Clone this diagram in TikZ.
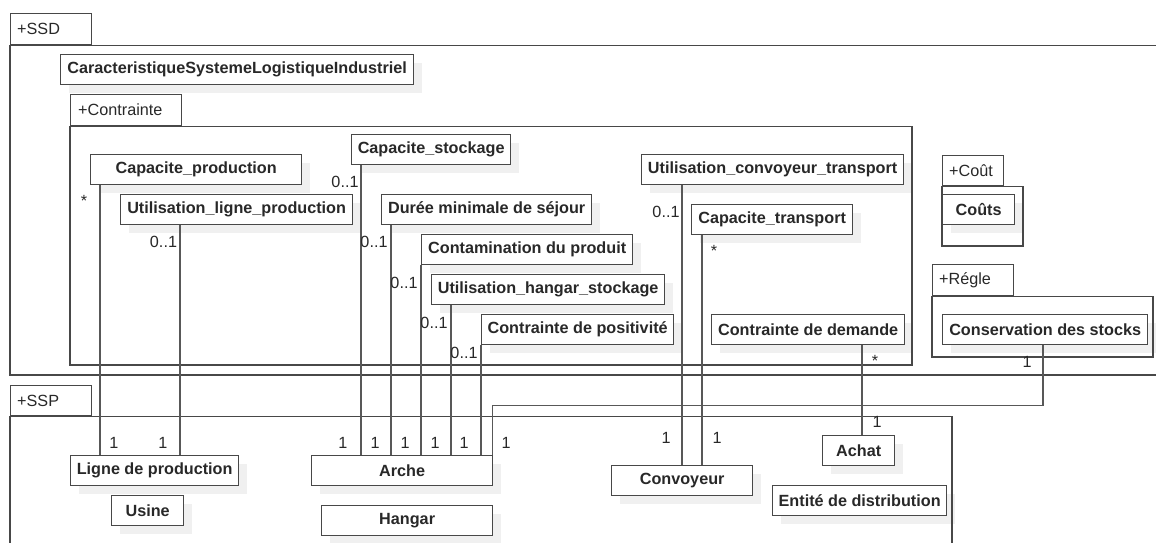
\documentclass[tikz,border=0pt]{standalone}
\usepackage{fontspec}
\setmainfont{Liberation Sans}
\usepackage{xcolor}
\usepackage{tikz}
\usetikzlibrary{shadows}
\definecolor{linegray}{RGB}{88,88,88}
\definecolor{boxgray}{RGB}{72,72,72}
\definecolor{textgray}{RGB}{40,40,40}
\definecolor{shadowgray}{RGB}{240,240,240}
\newcommand{\umlfont}{\fontsize{16.2}{19}\selectfont}

\tikzset{
  classbox/.style={draw=boxgray, line width=1.3pt, fill=white, font=\umlfont\bfseries,
    text=textgray, inner sep=0pt, minimum height=30pt, anchor=north west,
    drop shadow={shadow xshift=8pt, shadow yshift=-8pt, fill=shadowgray, opacity=1}},
  pkgtab/.style={draw=boxgray, line width=1.3pt, inner sep=0pt, minimum height=31pt, anchor=north west},
  pkglabel/.style={font=\umlfont, text=textgray, inner sep=0pt, anchor=west},
  frame/.style={draw=boxgray, line width=1.3pt},
  link/.style={draw=linegray, line width=1.3pt},
  mult/.style={font=\umlfont, text=textgray, inner sep=0pt, anchor=base}
}

\begin{document}
\begin{tikzpicture}[x=1pt, y=-1pt]
  \useasboundingbox (0,0) rectangle (1156,543);
  \clip (0,0) rectangle (1156,543);

  % classes of +SSD
  \node[classbox, minimum width=353] (csli) at (60,54) {CaracteristiqueSystemeLogistiqueIndustriel};
  \node[classbox, minimum width=159] (capstock) at (351,134) {Capacite\_stockage};
  \node[classbox, minimum width=211] (capprod) at (90,154) {Capacite\_production};
  \node[classbox, minimum width=262] (utilconv) at (641,154) {Utilisation\_convoyeur\_transport};
  \node[classbox, minimum width=232] (utilligne) at (120,194) {Utilisation\_ligne\_production};
  \node[classbox, minimum width=210] (duree) at (381,194) {Durée minimale de séjour};
  \node[classbox, minimum width=72] (couts) at (942,194) {Coûts};
  \node[classbox, minimum width=161] (captrans) at (691,204) {Capacite\_transport};
  \node[classbox, minimum width=211] (contam) at (421,234) {Contamination du produit};
  \node[classbox, minimum width=233] (utilhangar) at (431,274) {Utilisation\_hangar\_stockage};
  \node[classbox, minimum width=192] (positiv) at (481,314) {Contrainte de positivité};
  \node[classbox, minimum width=193] (demande) at (711,314) {Contrainte de demande};
  \node[classbox, minimum width=205] (conserv) at (942,314) {Conservation des stocks};

  % classes of +SSP
  \node[classbox, minimum width=72] (achat) at (822,435) {Achat};
  \node[classbox, minimum width=168] (ligne) at (70,455) {Ligne de production};
  \node[classbox, minimum width=181] (arche) at (311,455) {Arche};
  \node[classbox, minimum width=141] (convoy) at (611,465) {Convoyeur};
  \node[classbox, minimum width=174] (entite) at (772,485) {Entité de distribution};
  \node[classbox, minimum width=72] (usine) at (111,495) {Usine};
  \node[classbox, minimum width=171] (hangar) at (321,505) {Hangar};

  % packages
  \node[pkgtab, minimum width=81] (ssd) at (10,13) {};
  \node[pkglabel] (ssd-l) at ([xshift=7]ssd.west) {+SSD};
  \draw[frame] (ssd.south west) rectangle (1180,375);
  \node[pkgtab, minimum width=111] (contr) at (70,94) {};
  \node[pkglabel] (contr-l) at ([xshift=8]contr.west) {+Contrainte};
  \draw[frame] (contr.south west) rectangle (912,365);
  \node[pkgtab, minimum width=61, minimum height=30pt] (cout) at (942,155) {};
  \node[pkglabel] (cout-l) at ([xshift=7]cout.west) {+Coût};
  \draw[frame] (cout.south west) rectangle (1023,246);
  \node[pkgtab, minimum width=81] (regle) at (932,264) {};
  \node[pkglabel] (regle-l) at ([xshift=7]regle.west) {+Régle};
  \draw[frame] (regle.south west) rectangle (1153,357);
  \node[pkgtab, minimum width=81, minimum height=30pt] (ssp) at (10,385) {};
  \node[pkglabel] (ssp-l) at ([xshift=7]ssp.west) {+SSP};
  \draw[frame] (ssp.south west) rectangle (952,580);

  % associations
  \coordinate (capprod-b) at ([xshift=10]capprod.south west);
  \coordinate (utilligne-b) at ([xshift=60]utilligne.south west);
  \coordinate (capstock-b) at ([xshift=10]capstock.south west);
  \coordinate (duree-b) at ([xshift=10]duree.south west);
  \coordinate (contam-b) at (contam.south west);
  \coordinate (utilhangar-b) at ([xshift=20]utilhangar.south west);
  \coordinate (positiv-b) at (positiv.south west);
  \coordinate (utilconv-b) at ([xshift=41]utilconv.south west);
  \coordinate (captrans-b) at ([xshift=11]captrans.south west);
  \coordinate (demande-b) at ([xshift=151]demande.south west);
  \coordinate (conserv-b) at ([xshift=101]conserv.south west);
  \coordinate (arche-t) at ([xshift=-1]arche.north east);

  \draw[link] (capprod-b) -- (capprod-b |- ligne.north);
  \draw[link] (utilligne-b) -- (utilligne-b |- ligne.north);
  \foreach \c in {capstock,duree,contam,utilhangar,positiv}
    \draw[link] (\c-b) -- (\c-b |- arche.north);
  \draw[link] (utilconv-b) -- (utilconv-b |- convoy.north);
  \draw[link] (captrans-b) -- (captrans-b |- convoy.north);
  \draw[link] (demande-b) -- (demande-b |- achat.north);
  \draw[link] (conserv-b) -- ++(0,60) -| (arche-t);

  % multiplicities
  \node[mult] (m-capprod) at (84,206) {*};
  \node[mult] (m-utilligne) at (163.5,247) {0..1};
  \node[mult] (m-capstock) at (345,187) {0..1};
  \node[mult] (m-duree) at (374,247) {0..1};
  \node[mult] (m-contam) at (404,288) {0..1};
  \node[mult] (m-utilhangar) at (434,328) {0..1};
  \node[mult] (m-positiv) at (464,358) {0..1};
  \node[mult] (m-utilconv) at (666,217) {0..1};
  \node[mult] (m-captrans) at (714,256) {*};
  \node[mult] (m-demande) at (875,366) {*};
  \node[mult] (m-conserv) at (1027,367) {1};
  \node[mult] (m-ligne1) at (114,448) {1};
  \node[mult] (m-ligne2) at (163,448) {1};
  \foreach \x [count=\i] in {343,375,405,435,464,506}
    \node[mult] (m-arche\i) at (\x,448) {1};
  \node[mult] (m-convoy1) at (666,443) {1};
  \node[mult] (m-convoy2) at (717,443) {1};
  \node[mult] (m-achat) at (877,427) {1};
\end{tikzpicture}
\end{document}
